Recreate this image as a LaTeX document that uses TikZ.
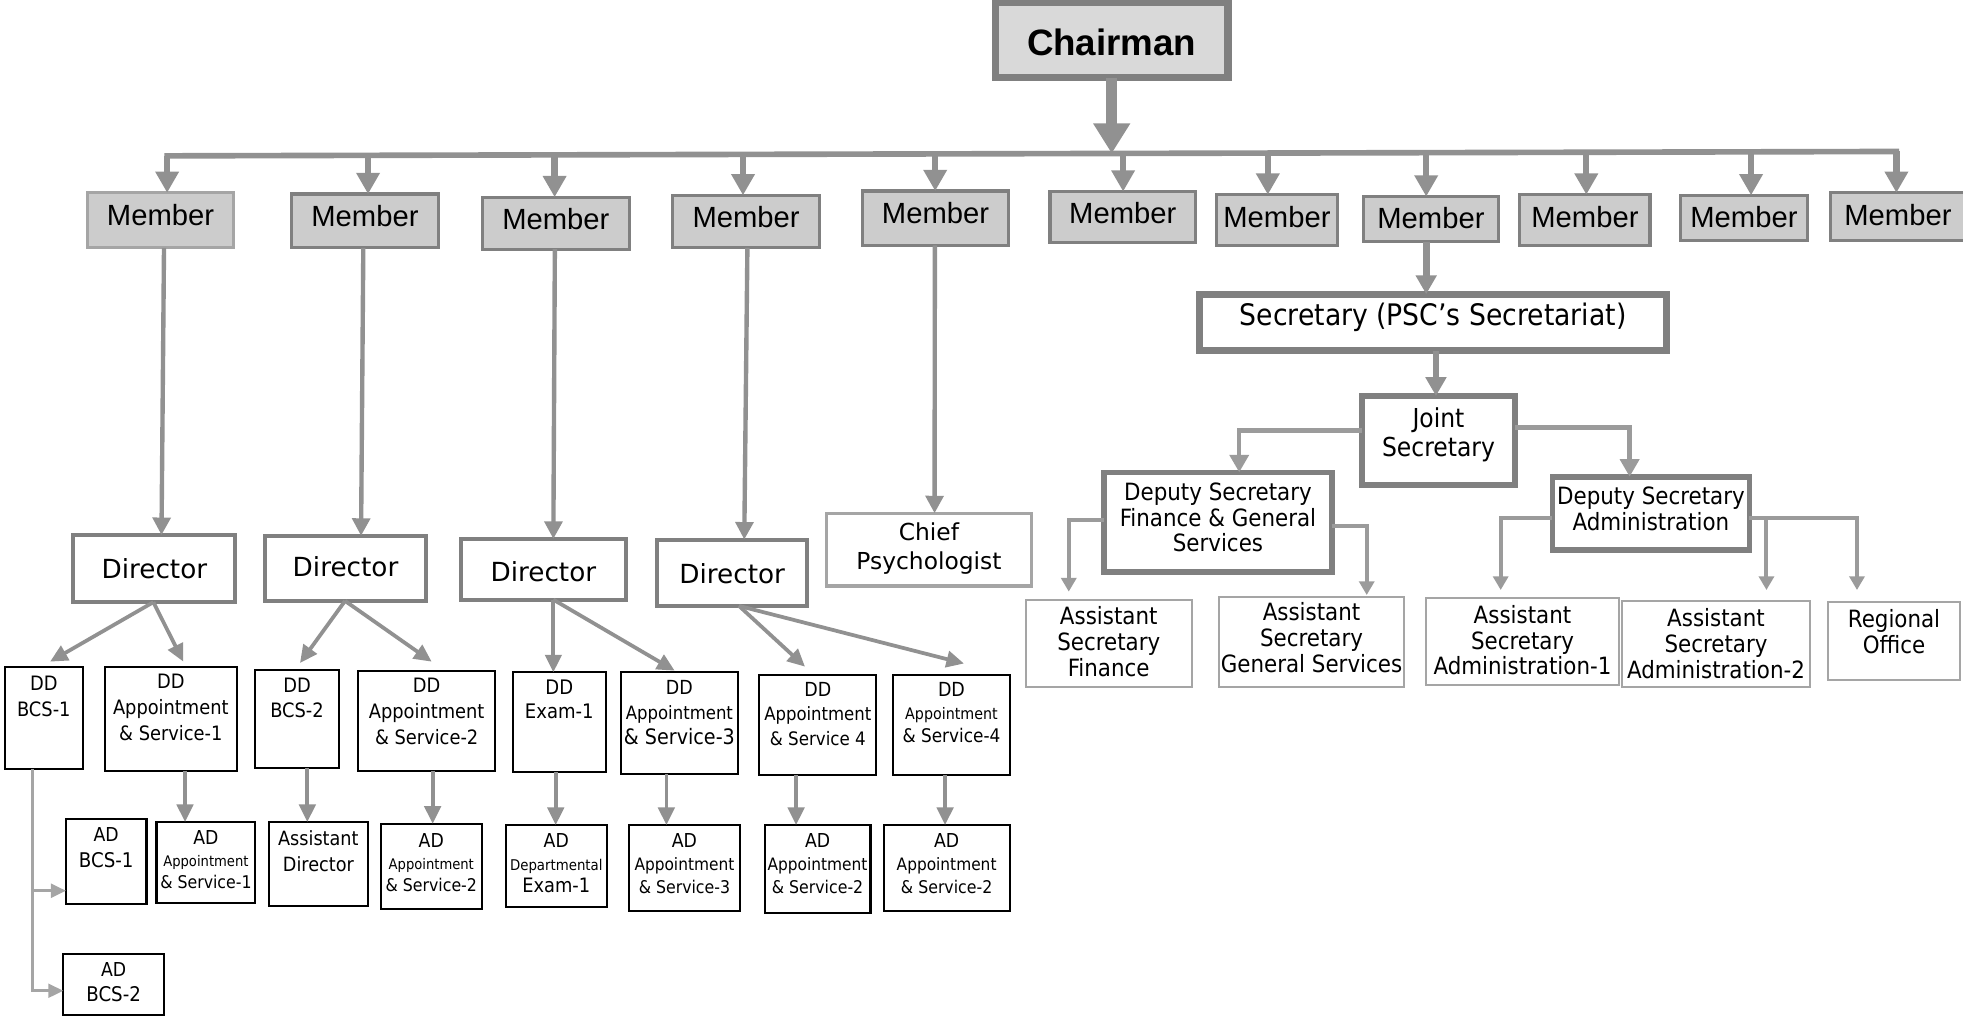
\documentclass[tikz,border=0pt]{standalone}
\usepackage{fontspec}
\setmainfont{Liberation Sans}
\newfontfamily\tah{DejaVu Sans Condensed}
\newfontfamily\ver{DejaVu Sans}
\usetikzlibrary{arrows.meta,calc}
\definecolor{cb}{RGB}{128,128,128}
\definecolor{ca}{RGB}{145,145,145}
\definecolor{cl}{RGB}{165,165,165}
\definecolor{ce}{RGB}{155,155,155}
\definecolor{cmf}{RGB}{204,204,204}
\definecolor{ccf}{RGB}{217,217,217}
\newcommand\fs[2]{\fontsize{#1}{#2}\selectfont}
\newcommand\obox[9]{%
  \node[#2, minimum width={(#5-#3)*0.6pt}, minimum height={(#6-#4)*0.6pt}] (#1) at ({(#3+#5)/2},{(#4+#6)/2}) {};
  \node[#7] (#1t) at ({(#3+#5)/2},#8) {#9};}
\tikzset{
  base/.style={rectangle, inner sep=0pt, outer sep=0pt},
  chbox/.style={base, draw=cb, line width=3.6pt, fill=ccf},
  mbox/.style={base, draw=cb, line width=1.5pt, fill=cmf},
  dbox/.style={base, draw=cb, line width=1.9pt, fill=white},
  cpbox/.style={base, draw=cl, line width=1.7pt, fill=white},
  kbox/.style={base, draw=black, line width=1pt, fill=white},
  sbox/.style={base, draw=cb, line width=3.2pt, fill=white},
  jbox/.style={base, draw=cb, line width=2.7pt, fill=white},
  abox/.style={base, draw=cl, line width=0.9pt, fill=white},
  txt/.style={inner sep=0pt, align=center, text=black},
  chtxt/.style={txt, font=\bfseries\fs{17.6}{20}},
  mtxt/.style={txt, font=\fs{14}{16}},
  dtxt/.style={txt, font=\ver\fs{12.6}{15}},
  cptxt/.style={txt, font=\ver\fs{11.2}{13.9}},
  ddtxt/.style={txt, font=\tah\fs{9.5}{12.4}},
  adtxt/.style={txt, font=\tah\fs{9.2}{12.3}},
  sectxt/.style={txt, font=\tah\fs{14.2}{17}},
  jtxt/.style={txt, font=\tah\fs{12.5}{13.8}},
  dstxt/.style={txt, font=\tah\fs{11.4}{12.3}},
  hbar/.style={draw=ca, line width=2.7pt, line cap=rect},
  a0/.style={draw=ca, line width=5.4pt, -{Triangle[width=16.8pt,length=14.4pt]}},
  a1/.style={draw=ca, line width=3pt, -{Triangle[width=10.8pt,length=10.2pt]}},
  a2/.style={draw=ca, line width=2.1pt, -{Triangle[width=8.4pt,length=8.4pt]}},
  a3/.style={draw=ca, line width=1.8pt, -{Triangle[width=7.8pt,length=8.4pt]}},
  a4/.style={draw=cl, line width=1.3pt, -{Triangle[width=6.6pt,length=7.2pt]}},
  a5/.style={draw=ca, line width=3.3pt, -{Triangle[width=9.6pt,length=9pt]}},
  a6/.style={draw=ce, line width=2.1pt, -{Triangle[width=9pt,length=8.4pt]}},
  a7/.style={draw=ce, line width=1.9pt, -{Triangle[width=7.2pt,length=6.6pt]}},
}
\begin{document}
\begin{tikzpicture}[x=0.6pt,y=-0.6pt]
\useasboundingbox (0,0) rectangle (1568,812);
% Chairman and members
\obox{ch}{chbox}{795}{2}{981}{62}{chtxt}{34}{Chairman}
\obox{m1}{mbox,draw=cl}{70}{154}{186.5}{198}{mtxt}{171.5}{Member}
\obox{m2}{mbox}{233}{155}{350}{198}{mtxt}{172.5}{Member}
\obox{m3}{mbox}{385.5}{157.5}{502.5}{199}{mtxt}{175}{Member}
\obox{m4}{mbox}{537.5}{156}{654.5}{198}{mtxt}{173.5}{Member}
\obox{m5}{mbox}{689}{152.6}{805.5}{196}{mtxt}{170}{Member}
\obox{m6}{mbox}{838.7}{153}{955}{194}{mtxt}{170.5}{Member}
\obox{m7}{mbox}{972}{155.5}{1068}{196}{mtxt}{173}{Member}
\obox{m8}{mbox}{1089}{157}{1197}{193}{mtxt}{174.5}{Member}
\obox{m9}{mbox}{1214}{155.5}{1318}{196}{mtxt}{173}{Member}
\obox{m10}{mbox}{1342}{156}{1444}{192}{mtxt}{173.5}{Member}
\obox{m11}{mbox}{1462}{154}{1570}{192}{mtxt}{171.5}{Member}
% Directors
\obox{d1}{dbox}{58.6}{427.4}{188}{481}{dtxt}{454}{Director}
\obox{d2}{dbox}{212}{428}{340}{480}{dtxt}{452.6}{Director}
\obox{d3}{dbox}{368}{430.5}{500}{479}{dtxt}{456.6}{Director}
\obox{d4}{dbox}{525}{431}{644.6}{484}{dtxt}{458}{Director}
\obox{cp}{cpbox}{660}{410}{824}{468}{cptxt}{438}{Chief\\Psychologist}
% DD boxes
\obox{dd1}{kbox}{3.7}{532.5}{66.3}{614.5}{ddtxt}{556.2}{DD\\BCS-1}
\obox{dd2}{kbox}{83.9}{532.5}{189}{615.6}{ddtxt}{565.1}{DD\\Appointment\\\& Service-1}
\obox{dd3}{kbox}{204}{535}{270.5}{613.7}{ddtxt}{557.5}{DD\\BCS-2}
\obox{dd4}{kbox}{286}{536}{395.6}{615.6}{ddtxt}{568}{DD\\Appointment\\\& Service-2}
\obox{dd5}{kbox}{409.7}{537}{483.8}{617}{ddtxt,font=\tah\fs{9.6}{11.5}}{558.9}{DD\\Exam-1}
\obox{dd6}{kbox}{496}{537}{589.4}{618.3}{ddtxt,font=\tah\fs{9.3}{11.9}}{569.1}{DD\\{\fs{8.8}{11.9}Appointment}\\{\fs{10.2}{11.9}\& Service-3}}
\obox{dd7}{kbox}{606.5}{539}{700}{619}{ddtxt,font=\tah\fs{9.3}{11.8}}{570.2}{DD\\{\fs{8.8}{11.8}Appointment}\\{\fs{8.9}{11.8}\& Service 4}}
\obox{dd8}{kbox}{713.5}{539}{806.5}{619}{ddtxt,font=\tah\fs{9.3}{11}}{568.9}{DD\\{\fs{7.6}{11}Appointment}\\{\fs{9}{11}\& Service-4}}
% AD boxes
\obox{ad1}{kbox}{52.7}{654}{117}{722}{adtxt}{677.3}{AD\\{\fs{9.7}{12.3}BCS-1}}
\obox{ad2}{kbox}{125}{656.6}{204}{721.5}{adtxt,font=\tah\fs{9.2}{10.6}}{686.7}{AD\\{\fs{7}{10.6}Appointment}\\{\fs{8.4}{10.6}\& Service-1}}
\obox{ad3}{kbox}{214.6}{656.6}{294}{723.7}{adtxt,font=\tah\fs{9.4}{12.2}}{679.9}{Assistant\\Director}
\obox{ad4}{kbox}{304}{658}{385}{726}{adtxt,font=\tah\fs{9.2}{10.5}}{688.8}{AD\\{\fs{7}{10.5}Appointment}\\{\fs{8.4}{10.5}\& Service-2}}
\obox{ad5}{kbox}{50.6}{762}{131}{810.5}{adtxt,font=\tah\fs{9.2}{12}}{784.8}{AD\\{\fs{9.7}{12}BCS-2}}
\obox{ad6}{kbox}{404}{659}{484.7}{724.8}{adtxt,font=\tah\fs{9.2}{10.8}}{689.5}{AD\\{\fs{7.1}{10.8}Departmental}\\{\fs{9.5}{10.8}Exam-1}}
\obox{ad7}{kbox}{502.4}{659}{591}{728}{adtxt,font=\tah\fs{9.2}{11}}{690.2}{AD\\{\fs{8.2}{11}Appointment}\\{\fs{8.4}{11}\& Service-3}}
\obox{ad8}{kbox}{610.8}{659}{695.3}{729}{adtxt,font=\tah\fs{9.2}{11}}{690.2}{AD\\{\fs{8.2}{11}Appointment}\\{\fs{8.4}{11}\& Service-2}}
\obox{ad9}{kbox}{705.8}{659}{806.5}{728}{adtxt,font=\tah\fs{9.2}{11}}{690.2}{AD\\{\fs{8.2}{11}Appointment}\\{\fs{8.4}{11}\& Service-2}}
% Secretariat
\obox{sec}{sbox}{958.2}{235}{1331.2}{280}{sectxt}{253.6}{Secretary (PSC’s Secretariat)}
\obox{js}{jbox}{1088}{316.3}{1210}{387.4}{jtxt}{347}{Joint\\Secretary}
\obox{dsf}{jbox}{882}{377.3}{1063.7}{457}{dstxt}{413.5}{Deputy Secretary\\Finance \& General\\Services}
\obox{dsa}{jbox}{1240}{380.8}{1397.4}{439.3}{dstxt}{406.5}{Deputy Secretary\\Administration}
\obox{asf}{abox}{819.4}{479.3}{951.8}{548.5}{dstxt}{512.5}{Assistant\\Secretary\\Finance}
\obox{asg}{abox}{974}{476.6}{1121.2}{548.5}{dstxt}{509.3}{Assistant\\Secretary\\General Services}
\obox{asa1}{abox}{1138.8}{477.4}{1293.4}{547.2}{dstxt}{511.5}{Assistant\\Secretary\\Administration-1}
\obox{asa2}{abox}{1295.8}{480}{1445.5}{549}{dstxt}{514}{Assistant\\Secretary\\Administration-2}
\obox{reg}{abox}{1460.2}{481}{1565.6}{543.2}{dstxt}{504.5}{Regional\\Office}
% bar
\coordinate (b1) at (133.5,124.5);
\coordinate (b2) at (294,124.09);
\coordinate (b3) at (443,123.72);
\coordinate (b4) at (593.5,123.33);
\coordinate (b5) at (747,122.95);
\coordinate (b6) at (897.1,122.56);
\coordinate (b7) at (1012.7,122.27);
\coordinate (b8) at (1139.2,121.95);
\coordinate (b9) at (1267.1,121.63);
\coordinate (b10) at (1398.7,121.29);
\coordinate (b11) at (1514.8,121.0);
\coordinate (bc) at (888,122.6);
\draw[hbar] (b1) -- (b11);
\draw[a0] (ch.south) -- (bc);
\foreach \i in {1,...,11} \draw[a1] (b\i) -- (b\i |- m\i.north);
% members to directors
\draw[a2] ($(m1.south)+(2.75,0)$) -- ($(d1.north)+(5.7,0)$);
\draw[a2] ($(m2.south)+(-1.3,0)$) -- ($(d2.north)+(12.4,0)$);
\draw[a2] ($(m3.south)+(-0.8,0)$) -- ($(d3.north)+(8,0)$);
\draw[a2] ($(m4.south)+(1,0)$) -- ($(d4.north)+(9.7,0)$);
\draw[a2] ($(m5.south)+(-0.5,0)$) -- ($(cp.north)+(4.5,0)$);
% directors to DD
\draw[a3] ($(d1.south)+(-0.8,0)$) -- ($(dd1.north)+(5,-4)$);
\draw[a3] ($(d1.south)+(-0.8,0)$) -- ($(dd2.north)+(10,-4)$);
\draw[a3] ($(d2.south)+(-0.4,0)$) -- ($(dd3.north)+(2.4,-5.4)$);
\draw[a3] ($(d2.south)+(-0.4,0)$) -- ($(dd4.north)+(4,-7.5)$);
\draw[a3] ($(d3.south)+(8,0)$) -- ($(dd5.north)+(-4.75,0)$);
\draw[a3] ($(d3.south)+(8,0)$) -- ($(dd6.north)+(-3.8,-1.3)$);
\draw[a3] ($(d4.south)+(5.5,0)$) -- ($(dd7.north)+(-10.25,-6.5)$);
\draw[a3] ($(d4.south)+(5.5,0)$) -- ($(dd8.north)+(10,-9)$);
% DD to AD
\coordinate (q2) at ($(dd2.south)+(11.35,0)$);
\coordinate (q3) at ($(dd3.south)+(8.25,0)$);
\coordinate (q4) at ($(dd4.south)+(4.8,0)$);
\coordinate (q5) at ($(dd5.south)+(-2.85,0)$);
\coordinate (q6) at ($(dd6.south)+(-10.4,0)$);
\coordinate (q7) at ($(dd7.south)+(-17.35,0)$);
\coordinate (q8) at ($(dd8.south)+(-5.1,0)$);
\draw[a3] (q2) -- (q2 |- ad2.north);
\draw[a3] (q3) -- (q3 |- ad3.north);
\draw[a3] (q4) -- (q4 |- ad4.north);
\draw[a3] (q5) -- (q5 |- ad6.north);
\draw[a3] (q6) -- (q6 |- ad7.north);
\draw[a3] (q7) -- (q7 |- ad8.north);
\draw[a3] (q8) -- (q8 |- ad9.north);
\coordinate (q1) at ($(dd1.south)+(-9.2,0)$);
\coordinate (q1b) at ($(dd1.south)+(-9.2,97)$);
\draw[a4] (q1) |- ($(ad5.west)+(0,5.15)$);
\draw[a4] (q1b) -- ($(ad1.west)+(0,23.5)$);
% secretariat
\coordinate (s1) at ($(m8.south)+(-3.8,0)$);
\coordinate (s2) at ($(sec.south)+(2.3,0)$);
\draw[a5] (s1) -- (s1 |- sec.north);
\draw[a5] (s2) -- (s2 |- js.north);
\draw[a6] ($(js.west)+(0,-7.85)$) -| ($(dsf.north)+(17,0)$);
\draw[a6] ($(js.east)+(0,-10.35)$) -| ($(dsa.north)+(-17,0)$);
\draw[a7] ($(dsf.west)+(0,-1.75)$) -| ($(asf.north)+(-31.9,-6.7)$);
\draw[a7] ($(dsf.east)+(0,2.75)$) -| ($(asg.north)+(44.1,-1.3)$);
\draw[a7] ($(dsa.west)+(0,3.45)$) -| ($(asa1.north)+(-17.4,-6.1)$);
\draw[a7] ($(dsa.east)+(0,3.45)$) -| ($(reg.north)+(-29.6,-9.7)$);
\draw[a7] ($(dsa.east)+(13.6,3.45)$) -- ($(asa2.north)+(40.35,-8.7)$);
\end{tikzpicture}
\end{document}
